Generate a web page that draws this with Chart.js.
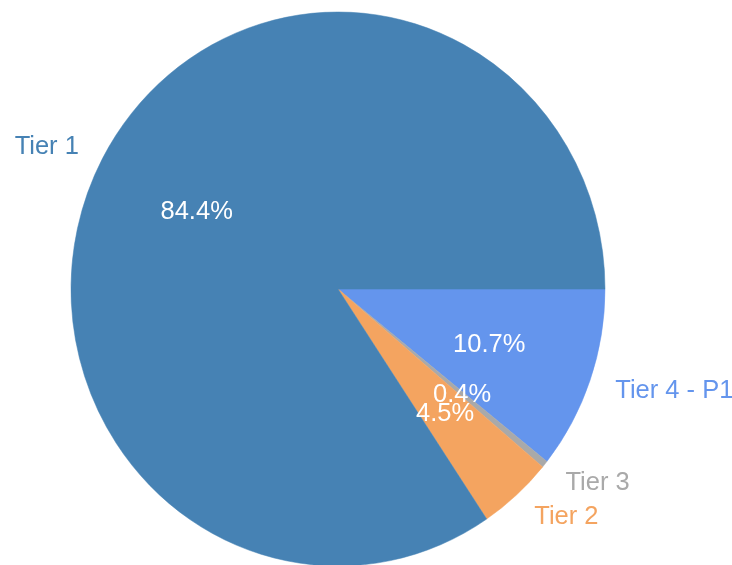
<!DOCTYPE html>
<html>
<head>
<meta charset="utf-8">
<script src="https://cdn.jsdelivr.net/npm/chart.js@4/dist/chart.umd.min.js"></script>
<style>
html,body{margin:0;padding:0;background:#fff;}
#c{display:block;}
</style>
</head>
<body>
<canvas id="c" width="732" height="565" style="width:732px;height:565px"></canvas>
<script>
const categories = ['Tier 1', 'Tier 2', 'Tier 3', 'Tier 4 - P1'];
const values = [84.4, 4.5, 0.4, 10.7];
const colors = ['#4682B4', '#F4A460', '#A9A9A9', '#6495ED'];

// matplotlib draws counter-clockwise from 3 o'clock; Chart.js draws clockwise,
// so feed the slices in reverse order starting at 3 o'clock.
const order = [3, 2, 1, 0];
const total = values.reduce((a, b) => a + b, 0);
const Y_SCALE = 277 / 267;
const FONT = '25.5px "Liberation Sans", Arial, sans-serif';

const ellipsePlugin = {
  id: 'ellipse',
  beforeDatasetsDraw(chart) {
    const arc = chart.getDatasetMeta(0).data[0];
    const ctx = chart.ctx;
    ctx.save();
    ctx.translate(arc.x, arc.y);
    ctx.scale(1, Y_SCALE);
    ctx.translate(-arc.x, -arc.y);
  },
  afterDatasetsDraw(chart) {
    chart.ctx.restore();
  },
  afterDraw(chart) {
    const ctx = chart.ctx;
    const meta = chart.getDatasetMeta(0);
    ctx.save();
    ctx.font = FONT;
    ctx.textBaseline = 'middle';
    for (let i = 0; i < categories.length; i++) {
      const idx = order.indexOf(i);
      const el = meta.data[idx];
      const mid = (el.startAngle + el.endAngle) / 2;
      const R = el.outerRadius;
      const c = Math.cos(mid), s = Math.sin(mid);
      const lx = el.x + c * 1.1 * R;
      const ly = el.y + s * 1.1 * R * Y_SCALE + 1;
      ctx.fillStyle = colors[i];
      ctx.textAlign = c >= 0 ? 'left' : 'right';
      ctx.fillText(categories[i], lx, ly);
      const px = el.x + c * 0.6 * R;
      const py = el.y + s * 0.6 * R * Y_SCALE + 1;
      ctx.fillStyle = '#ffffff';
      ctx.textAlign = 'center';
      ctx.fillText((values[i] / total * 100).toFixed(1) + '%', px, py);
    }
    ctx.restore();
  }
};

new Chart(document.getElementById('c'), {
  type: 'pie',
  data: {
    labels: order.map(i => categories[i]),
    datasets: [{
      data: order.map(i => values[i]),
      backgroundColor: order.map(i => colors[i]),
      borderColor: order.map(i => colors[i]),
      borderWidth: 0.5
    }]
  },
  options: {
    responsive: false,
    animation: false,
    rotation: 90,
    radius: 267,
    layout: { padding: { top: 22, bottom: 9, left: 0, right: 56 } },
    plugins: {
      legend: { display: false },
      tooltip: { enabled: false }
    }
  },
  plugins: [ellipsePlugin]
});
</script>
</body>
</html>
